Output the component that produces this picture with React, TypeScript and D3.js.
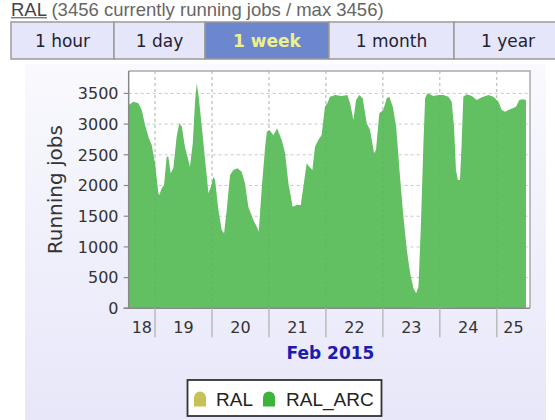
import React from "react";
import * as d3 from "d3";

// hours since Feb 18 2015 00:00
const arcHours = [
  12.9, 14.9, 17, 18.4, 19.8, 21.2, 22.6, 24, 25.4, 25.8, 26.8, 27.8, 28.9, 29.6, 30.6, 31.7,
  33.1, 34.2, 35.3, 36.6, 38.0, 38.7, 39.9, 40.9, 41.6, 42.4, 43.7, 45.1, 46.5, 47.5, 48.6,
  49.3, 50.7, 52.1, 53.1, 54.2, 55.6, 57.0, 58.7, 60.5, 61.9, 63.3, 65.4, 66.9, 67.7, 69.0,
  70.4, 71.1, 72.2, 73.9, 75.4, 77.4, 78.8, 80.2, 82.0, 83.7, 85.4, 86.5, 87.9, 89.0, 90.3,
  91.4, 92.8, 94.2, 95.6, 96.6, 97.7, 99.9, 102.7, 105.0, 106.2, 107.6, 108.7, 110.1, 111.5,
  113.2, 114.6, 116.3, 117.1, 118.5, 120.2, 121.6, 122.7, 124.2, 125.6, 127.0, 128.4, 130.1,
  131.5, 132.9, 134.0, 135.0, 136.0, 137.1, 137.8, 138.8, 141.3, 143.4, 145.5, 147.6, 149.0,
  150.0, 150.8, 151.6, 152.5, 153.2, 153.9, 155.4, 157.5, 159.6, 161.7, 164.5, 166.6, 168.7,
  170.1, 171.5, 172.9, 174.7, 176.1, 177.5, 178.9, 180.3,
];
const ralArc = [
  3310, 3365, 3338, 3230, 2985, 2795, 2660, 2361, 1873, 1845, 1954, 2008, 2470, 2470, 2199, 2280,
  2795, 3013, 2958, 2632, 2415, 2306, 2687, 3392, 3664, 3446, 2958, 2415, 1873, 1980, 2143,
  2090, 1601, 1275, 1222, 1601, 2171, 2252, 2280, 2225, 2036, 1655, 1438, 1329, 1248, 1980,
  2632, 2876, 2904, 2820, 2932, 2741, 2524, 2036, 1655, 1682, 1682, 1980, 2361, 2306, 2252,
  2632, 2741, 2822, 3283, 3338, 3446, 3474, 3458, 3474, 3338, 3067, 3392, 3474, 3420,
  3013, 2904, 2524, 2578, 3176, 3230, 3420, 3446, 3283, 2958, 2252, 1601, 949,
  570, 326, 244, 352, 1329, 2687, 3420, 3501, 3458, 3474, 3474, 3446, 3365,
  2958, 2252, 2090, 2090, 2687, 3446, 3485, 3458, 3392, 3437, 3474, 3446, 3365,
  3230, 3202, 3230, 3257, 3283, 3392, 3404, 3392,
];
const ralHours = [12.9, 25.5, 26.5, 40.5, 41.5, 72, 73, 132, 133, 150, 151, 180.3];
const ral = [0, 0, 14, 14, 10, 10, 0, 0, 12, 12, 0, 0];

const tabs = ["1 hour", "1 day", "1 week", "1 month", "1 year"];
const selectedTab = "1 week";
const yTicks = [0, 500, 1000, 1500, 2000, 2500, 3000, 3500];
const legendItems = ["RAL", "RAL_ARC"];
const legendColors = ["#c8c256", "#3cb43c"];

const base = new Date(2015, 1, 18);
const toDate = (h: number) => new Date(base.getTime() + h * 3600e3);
const xStart = toDate(12.9);
const xEnd = toDate(182.0);

export default function App() {
  const W = 555;
  const H = 420;
  const left = 128.7, right = 530, top = 71, bottom = 308.3;

  const x = d3.scaleTime().domain([xStart, xEnd]).range([left, right]);
  const y = d3.scaleLinear().domain([0, 3865]).range([bottom, top]);

  const arcData = arcHours.map((h, i) => ({ t: toDate(h), v: ralArc[i] }));
  const ralData = ralHours.map((h, i) => ({ t: toDate(h), v: ral[i] }));
  const area = d3
    .area<{ t: Date; v: number }>()
    .x((d) => x(d.t))
    .y0(y(0))
    .y1((d) => y(d.v));

  const dayTicks = d3.timeDay.range(d3.timeDay.offset(d3.timeDay.floor(xStart), 1), xEnd);
  const dayStarts = d3.timeDay.range(d3.timeDay.floor(xStart), xEnd);
  const dayLabels = dayStarts.map((d) => {
    const a = Math.max(+d, +xStart);
    const b = Math.min(+d3.timeDay.offset(d, 1), +xEnd);
    return { label: d3.timeFormat("%d")(d), cx: x(new Date((a + b) / 2)) };
  });

  const tabEdges = [11, 114, 205, 329, 454, 562];
  const sans = "DejaVu Sans, sans-serif";
  const arial = "Liberation Sans, Arial, sans-serif";

  return (
    <div style={{ position: "absolute", left: 0, top: 0 }}>
      <svg width={W} height={H} style={{ display: "block", background: "#fff" }}>
        <defs>
          <linearGradient id="panel" x1="0" y1="0" x2="0" y2="1">
            <stop offset="0" stopColor="#f9f9fe" />
            <stop offset="1" stopColor="#e7e7f9" />
          </linearGradient>
          <clipPath id="plot">
            <rect x={left} y={top} width={right - left} height={bottom - top} />
          </clipPath>
        </defs>

        {/* title line */}
        <text x={11} y={16} fontFamily={arial} fontSize={18.5}>
          <tspan fill="#444">RAL</tspan>
          <tspan fill="#666"> (3456 currently running jobs / max 3456)</tspan>
        </text>
        <line x1={11} x2={47} y1={17.8} y2={17.8} stroke="#444" strokeWidth={1} />

        {/* tabs */}
        {tabs.map((t, i) => {
          const sel = t === selectedTab;
          const x0 = tabEdges[i], x1 = tabEdges[i + 1];
          return (
            <g key={t}>
              <rect x={x0} y={22} width={x1 - x0} height={37} fill={sel ? "#6c87cd" : "#e6e6fa"} stroke="#9a9a9a" strokeWidth={1.5} />
              <text
                x={(x0 + x1) / 2}
                y={46.5}
                textAnchor="middle"
                fontFamily={sans}
                fontSize={17}
                fontWeight={sel ? "bold" : "normal"}
                fill={sel ? "#eef08e" : "#222236"}
              >
                {t}
              </text>
            </g>
          );
        })}

        {/* chart panel */}
        <rect x={25} y={64} width={521} height={H - 64} fill="url(#panel)" />
        <rect x={left} y={top} width={right - left} height={bottom - top} fill="#fff" />

        {/* grid */}
        {yTicks.slice(1).map((v) => (
          <line key={v} x1={left} x2={right} y1={y(v)} y2={y(v)} stroke="#c8c8c8" strokeDasharray="3,3" />
        ))}
        {dayTicks.map((d) => (
          <line key={+d} x1={x(d)} x2={x(d)} y1={top} y2={bottom} stroke="#c8c8c8" strokeDasharray="3,3" />
        ))}

        {/* series */}
        <g clipPath="url(#plot)">
          <path d={area(arcData) ?? ""} fill="#62c062" />
          <path d={area(ralData) ?? ""} fill="#c8c256" />
        </g>
        {dayTicks.map((d) => (
          <line key={+d} x1={x(d)} x2={x(d)} y1={top} y2={bottom} stroke="#55a055" strokeOpacity={0.25} strokeDasharray="3,3" />
        ))}

        {/* frame */}
        <path d={`M${left},${top}H${right}V${bottom}`} fill="none" stroke="#aaa" strokeWidth={1.5} />
        <line x1={left} x2={left} y1={top} y2={bottom} stroke="#888" strokeWidth={1.5} />
        <line x1={left - 5} x2={right} y1={bottom} y2={bottom} stroke="#888" strokeWidth={1.5} />

        {/* y axis */}
        {yTicks.map((v) => (
          <g key={v}>
            <line x1={left - 5} x2={left} y1={y(v)} y2={y(v)} stroke="#888" strokeWidth={1.2} />
            <text x={118.5} y={y(v) + 5.8} textAnchor="end" fontFamily={sans} fontSize={16} fill="#333">
              {v}
            </text>
          </g>
        ))}
        <text
          transform={`translate(62,${(top + bottom) / 2}) rotate(-90)`}
          textAnchor="middle"
          fontFamily={sans}
          fontSize={20}
          fill="#333"
        >
          Running jobs
        </text>

        {/* x axis */}
        {dayTicks.map((d) => (
          <line key={+d} x1={x(d)} x2={x(d)} y1={bottom} y2={bottom + 29} stroke="#bbb" strokeWidth={1.5} />
        ))}
        {dayLabels.map((d) => (
          <text key={d.label} x={d.cx} y={332.5} textAnchor="middle" fontFamily={sans} fontSize={16} fill="#333">
            {d.label}
          </text>
        ))}
        <text x={330.5} y={359} textAnchor="middle" fontFamily={sans} fontSize={17} fontWeight="bold" fill="#1c1cae">
          Feb 2015
        </text>

        {/* legend */}
        <rect x={187.5} y={380} width={194} height={36} fill="#fff" stroke="#333" strokeWidth={1.8} />
        {legendItems.map((name, i) => {
          const mx = [194, 263][i];
          const tx = [216, 286][i];
          return (
            <g key={name}>
              <path
                d={`M${mx},406.5V397.5A6,6 0 0 1 ${mx + 12},397.5V406.5Z`}
                fill={legendColors[i]}
              />
              <text x={tx} y={405.5} fontFamily={arial} fontSize={19} fill="#222">
                {name}
              </text>
            </g>
          );
        })}
      </svg>
    </div>
  );
}
